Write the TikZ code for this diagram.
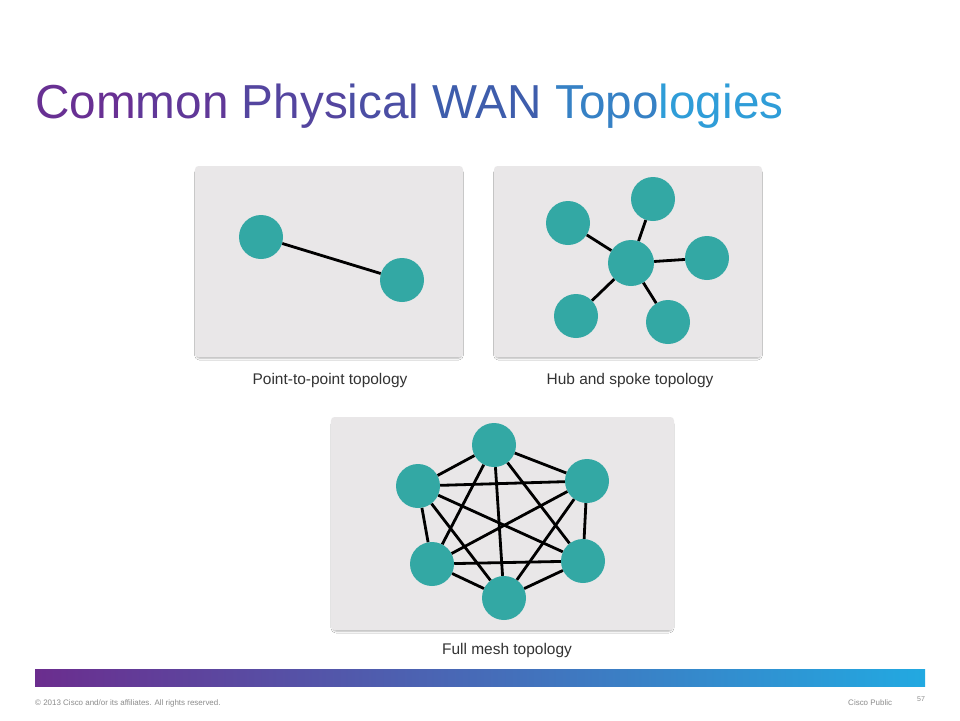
\documentclass[tikz,border=0pt]{standalone}
\usepackage{fontspec}
\setmainfont{Liberation Sans}
\usetikzlibrary{shadows.blur}
\definecolor{panelgray}{HTML}{E9E7E8}
\definecolor{siteteal}{HTML}{33A8A4}
\definecolor{captiongray}{HTML}{333333}
\definecolor{footgray}{HTML}{8C8C8C}
\definecolor{titleL}{HTML}{6B2C91}
\definecolor{titleM}{HTML}{3E5DAC}
\definecolor{titleR}{HTML}{2DA8E0}
\definecolor{barL}{HTML}{6B2D8E}
\definecolor{barM}{HTML}{1E4B8F}
\definecolor{barR}{HTML}{22A9E1}
\begin{document}
\begin{tikzpicture}[
    x=0.03cm, y=-0.03cm,
    panel/.style={rectangle, rounded corners=3pt, fill=panelgray, minimum width=8.04cm, minimum height=5.73cm,
        blur shadow={shadow xshift=0pt, shadow yshift=-2pt, shadow blur radius=1.5pt, shadow opacity=30, shadow scale=0.99}},
    site/.style={circle, fill=siteteal, minimum size=1.32cm, inner sep=0pt},
    link/.style={line width=2.4pt, black},
    caption/.style={font=\fontsize{13.2}{15}\selectfont, text=captiongray},
    foot/.style={font=\fontsize{6.8}{8}\selectfont, text=footgray, anchor=base west, inner sep=0pt}
]
    \useasboundingbox[fill=white] (0,0) rectangle (960,720);

    % Title
    \node[anchor=base west, inner sep=0pt, font=\fontsize{40.7}{46}\selectfont] (title) at (35,118)
        {{\color{titleM!8!titleL}Com}{\color{titleM!25!titleL}mon} {\color{titleM!50!titleL}Phys}{\color{titleM!70!titleL}ical} {\color{titleM}WAN} {\color{titleR!48!titleM}Topo}{\color{titleR!85!titleM}logies}};

    % Panels
    \node[panel] (p2p) at (329,261.5) {};
    \node[panel] (hub) at (628,261.5) {};
    \node[panel, minimum width=10.29cm, minimum height=6.39cm] (mesh) at (502.5,523.5) {};

    % Point-to-point
    \node[site] (pa) at (261,237) {};
    \node[site] (pb) at (402,280) {};
    \draw[link] (pa) -- (pb);
    \node[caption] (p2pcap) at (330,380) {Point-to-point topology};

    % Hub and spoke
    \node[site, minimum size=1.38cm] (hc) at (631,263) {};
    \node[site] (hs1) at (653,199) {};
    \node[site] (hs2) at (568,223) {};
    \node[site] (hs3) at (707,258) {};
    \node[site] (hs4) at (576,316) {};
    \node[site] (hs5) at (668,322) {};
    \foreach \s in {hs1,hs2,hs3,hs4,hs5}
        \draw[link] (hc) -- (\s);
    \node[caption] (hubcap) at (630,380) {Hub and spoke topology};

    % Full mesh
    \node[site] (m1) at (494,445) {};
    \node[site] (m2) at (418,486) {};
    \node[site] (m3) at (587,481) {};
    \node[site] (m4) at (432,564) {};
    \node[site] (m5) at (583,561) {};
    \node[site] (m6) at (504,598) {};
    \foreach \a/\b in {m1/m2,m1/m3,m1/m4,m1/m5,m1/m6,m2/m3,m2/m4,m2/m5,m2/m6,m3/m4,m3/m5,m3/m6,m4/m5,m4/m6,m5/m6}
        \draw[link] (\a) -- (\b);
    \node[caption] (meshcap) at (507,650) {Full mesh topology};

    % Footer
    \shade[left color=barL, middle color=barM, right color=barR] (35,669) rectangle (925,686);
    \node[foot] (copy) at (35,705) {© 2013 Cisco and/or its affiliates. All rights reserved.};
    \node[foot] (public) at (848,705) {Cisco Public};
    \node[foot, font=\fontsize{6}{7}\selectfont] (page) at (917,701) {57};
\end{tikzpicture}
\end{document}
